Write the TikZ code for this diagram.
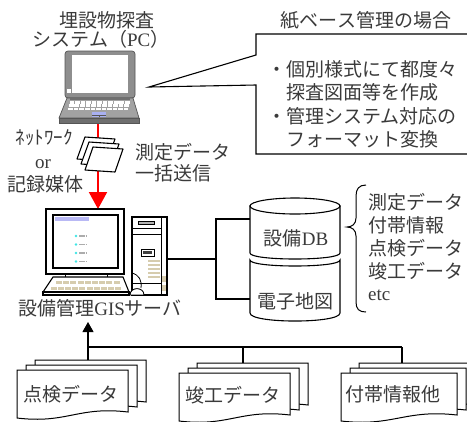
\documentclass[tikz,border=0pt]{standalone}
\usepackage{fontspec}
\setmainfont{Liberation Serif}
\newfontfamily\jpfont{Noto Sans CJK JP}
\usetikzlibrary{arrows.meta}

\definecolor{txt}{HTML}{3A3A3A}
\definecolor{lapframe}{HTML}{8E8E8E}
\definecolor{lapedge}{HTML}{555555}
\definecolor{lapbase}{HTML}{A2A2A2}
\definecolor{lapdark}{HTML}{6F6F6F}
\definecolor{pad}{HTML}{A9B0F2}
\definecolor{keytan}{HTML}{D6CCAE}
\definecolor{scrbar}{HTML}{B9B9F5}
\definecolor{scrdot}{HTML}{3EE6E6}

\tikzset{
  lbl/.style={inner sep=0pt, text=txt, font=\fontsize{19bp}{23bp}\selectfont},
  conn/.style={line width=1.1bp, draw=black},
  outline/.style={line width=1.1bp, draw=black, fill=white},
  page/.style={line width=1bp, draw=black, fill=white},
  sheet/.style={line width=1.1bp, draw=black, fill=white, line join=round},
}

% one page of a document stack: left x, top y, width
\newcommand\docpage[3]{%
  \filldraw[page] ({#1},{#2}) -- ({#1+#3},{#2}) -- ({#1+#3},{#2+42})
    .. controls ({#1+0.55*#3},{#2+36}) and ({#1+0.45*#3},{#2+54}) .. ({#1},{#2+48}) -- cycle;}
% three stacked pages, front page at left x, top y, width
\newcommand\docstack[3]{%
  \docpage{#1+18}{#2-10}{#3}\docpage{#1+9}{#2-5}{#3}\docpage{#1}{#2}{#3}}

\begin{document}
\begin{tikzpicture}[x=1bp,y=-1bp]
\useasboundingbox (0,0) rectangle (467,421);
\clip (0,0) rectangle (467,421);

% ---------- speech callout ----------
\filldraw[outline] (256,34) -- (480,34) -- (480,154) -- (256,154) -- (256,85)
  -- (149,87) -- (256,55) -- cycle;
\node[lbl, anchor=base] (ctitle) at (366,27) {\jpfont 紙ベース管理の場合};
\node[lbl, anchor=base] (b1) at (277,76.5) {\jpfont ・};
\node[lbl, anchor=base west] (c1) at (286,76.5) {\jpfont 個別様式にて都度々};
\node[lbl, anchor=base west] (c2) at (286,99.9) {\jpfont 探査図面等を作成};
\node[lbl, anchor=base] (b2) at (277,123.3) {\jpfont ・};
\node[lbl, anchor=base west] (c3) at (286,123.3) {\jpfont 管理システム対応の};
\node[lbl, anchor=base west] (c4) at (286,146.7) {\jpfont フォーマット変換};

% ---------- survey PC title ----------
\node[lbl, anchor=base] (pct1) at (107,27) {\jpfont 埋設物探査};
\node[lbl, anchor=base] (pct2) at (101,46) {{\jpfont システム（}PC{\jpfont ）}};

% ---------- transfer arrow (drawn first, sheets cover it) ----------
\coordinate (lapout) at (98,123);
\coordinate (srvtop) at (98,209);
\draw[line width=2bp, red, -{Triangle[width=18bp,length=17bp]}] (lapout) -- (srvtop);

% ---------- laptop ----------
\filldraw[fill=lapframe, draw=lapedge, line width=0.7bp, rounded corners=3bp] (65,51) rectangle (135,98);
\fill[white] (72,55) rectangle (128,93);
\fill[white] (67,89) rectangle (70.5,92.5);
\filldraw[fill=lapbase, draw=lapedge, line width=0.7bp] (67,98) -- (133,98) -- (139,118) -- (59,118) -- cycle;
\fill[lapdark] (70,97) rectangle (130,100);
\foreach \r in {0,1,2}
  \foreach \k in {0,...,10}
    \fill[white] ({69.5+\k*5.55-\r*0.6},{100.8+\r*3.4}) rectangle ++(4.6,2.7);
\fill[pad] (92,112) rectangle (106,117);
\draw[lapedge, line width=0.4bp] (92,115) -- (106,115) (99,115) -- (99,117);
\filldraw[fill=lapdark, draw=lapedge, line width=0.7bp] (59,118) rectangle (139,123);

% ---------- data sheets ----------
\filldraw[sheet] (85,137) -- (115,139) -- (107,161) -- (77,159) -- cycle;
\filldraw[sheet] (89,142) -- (119,144) -- (111,166) -- (81,164) -- cycle;
\filldraw[sheet] (93,147) -- (123,149) -- (115,172) -- (85,170) -- cycle;

\node[lbl, anchor=base] (nw) at (44,144) {\jpfont ﾈｯﾄﾜｰｸ};
\node[lbl, anchor=base] (orw) at (43,168) {or};
\node[lbl, anchor=base] (media) at (45,191) {\jpfont 記録媒体};
\node[lbl, anchor=base west] (sd1) at (135,159) {\jpfont 測定データ};
\node[lbl, anchor=base west] (sd2) at (135,180) {\jpfont 一括送信};

% ---------- GIS server: tower ----------
\filldraw[outline] (132,217) rectangle (167,295);
\draw[line width=0.7bp] (161,217) -- (161,295);
\draw[line width=0.7bp] (132,228) -- (161,228) (132,234) -- (161,234);
\filldraw[fill=gray!60, draw=black, line width=0.6bp] (138,221.5) rectangle (154,224.5);
\draw[line width=0.7bp] (141,249) rectangle (154,256);
\fill[black!75] (143,251) rectangle (152,254);
\foreach \yy in {261,265,269,273,277}
  \draw[keytan, line width=1.1bp] (148,\yy) -- (160,\yy);
\fill[keytan] (162,276) rectangle (166,282);
\fill[keytan] (162,285) rectangle (166,291);
\draw[line width=0.7bp] (132,283) -- (161,283);

% ---------- GIS server: monitor ----------
\filldraw[outline] (46,209) rectangle (124,274);
\draw[line width=1.8bp] (53,215) rectangle (118,268);
\fill[scrbar] (55,217) rectangle (89,220.5);
\foreach \yy in {236,244.5,253,261.5} {
  \fill[scrdot] (76,\yy) circle[radius=1.4];
  \draw[gray!65, line width=1.2bp, dash pattern=on 1.6bp off 0.6bp] (79,\yy) -- (86,\yy);
}
\draw[line width=1bp] (65,274) -- (65,277) (107,274) -- (107,277);

% ---------- GIS server: keyboard and mouse ----------
\filldraw[outline] (53,277) -- (123,277) -- (129,292) -- (43,292) -- cycle;
\filldraw[outline] (43,292) rectangle (129,295);
\foreach \k in {0,...,8}
  \fill[keytan] ({56+\k*7.2},281) rectangle ++(6,3);
\foreach \k in {0,...,9}
  \fill[keytan] ({51+\k*7.1},286.5) rectangle ++(6,3);
\draw[line width=0.8bp] (132,273) .. controls (139,275) and (142,280) .. (141,288);
\filldraw[outline, line width=0.9bp] (130,295) .. controls (130,286.5) and (144,286.5) .. (144,295) -- cycle;

\node[lbl, anchor=base] (srvlbl) at (100,315) {{\jpfont 設備管理}GIS{\jpfont サーバ}};

% ---------- database cylinders ----------
\filldraw[outline] (250,206) -- (250,253) .. controls (250,261) and (340,261) .. (340,253) -- (340,206) -- cycle;
\filldraw[outline] (295,206) ellipse [x radius=45, y radius=8];
\filldraw[outline] (250,260) -- (250,313) .. controls (250,323.7) and (340,323.7) .. (340,313)
  -- (340,260) .. controls (340,268) and (250,268) .. cycle;
\node[lbl, anchor=base] (dbl) at (296,245) {{\jpfont 設備}DB};
\node[lbl, anchor=base] (mapl) at (295,308) {\jpfont 電子地図};

% ---------- server to database link ----------
\coordinate (twr) at (167,259);
\coordinate (brk) at (216,259);
\coordinate (brkT) at (216,219);
\coordinate (brkB) at (216,299);
\coordinate (dbin) at (250,219);
\coordinate (mapin) at (250,299);
\draw[conn] (twr) -- (brk);
\draw[conn] (dbin) -- (brkT) -- (brkB) -- (mapin);

% ---------- database contents ----------
\draw[line width=1bp] (366,185) .. controls (359,185) and (356,189) .. (356,196) -- (356,218)
  .. controls (356,224) and (352,227) .. (347,227) .. controls (352,227) and (356,230) .. (356,236)
  -- (356,302) .. controls (356,309) and (359,312) .. (366,312);
\node[lbl, anchor=base west] (l1) at (368,209.5) {\jpfont 測定データ};
\node[lbl, anchor=base west] (l2) at (368,232.5) {\jpfont 付帯情報};
\node[lbl, anchor=base west] (l3) at (368,255.5) {\jpfont 点検データ};
\node[lbl, anchor=base west] (l4) at (368,278.5) {\jpfont 竣工データ};
\node[lbl, anchor=base west] (l5) at (368,300.5) {etc};

% ---------- source documents ----------
\docstack{17}{370}{111}
\docstack{179}{373}{111}
\docstack{341}{373}{116}
\node[lbl, anchor=base] (d1) at (71,401) {\jpfont 点検データ};
\node[lbl, anchor=base] (d2) at (233,402) {\jpfont 竣工データ};
\node[lbl, anchor=base] (d3) at (393,401) {\jpfont 付帯情報他};

% ---------- document feed into the server ----------
\coordinate (d1top) at (88,360);
\coordinate (d2top) at (243,363);
\coordinate (d3top) at (402,363);
\coordinate (busL) at (88,347);
\coordinate (busM) at (243,347);
\coordinate (busR) at (402,347);
\coordinate (srvin) at (88,322);
\draw[conn, -{Triangle[width=11bp,length=10bp]}] (d1top) -- (srvin);
\draw[conn] (busL) -- (busR);
\draw[conn] (busM) -- (d2top);
\draw[conn] (busR) -- (d3top);
\end{tikzpicture}
\end{document}
